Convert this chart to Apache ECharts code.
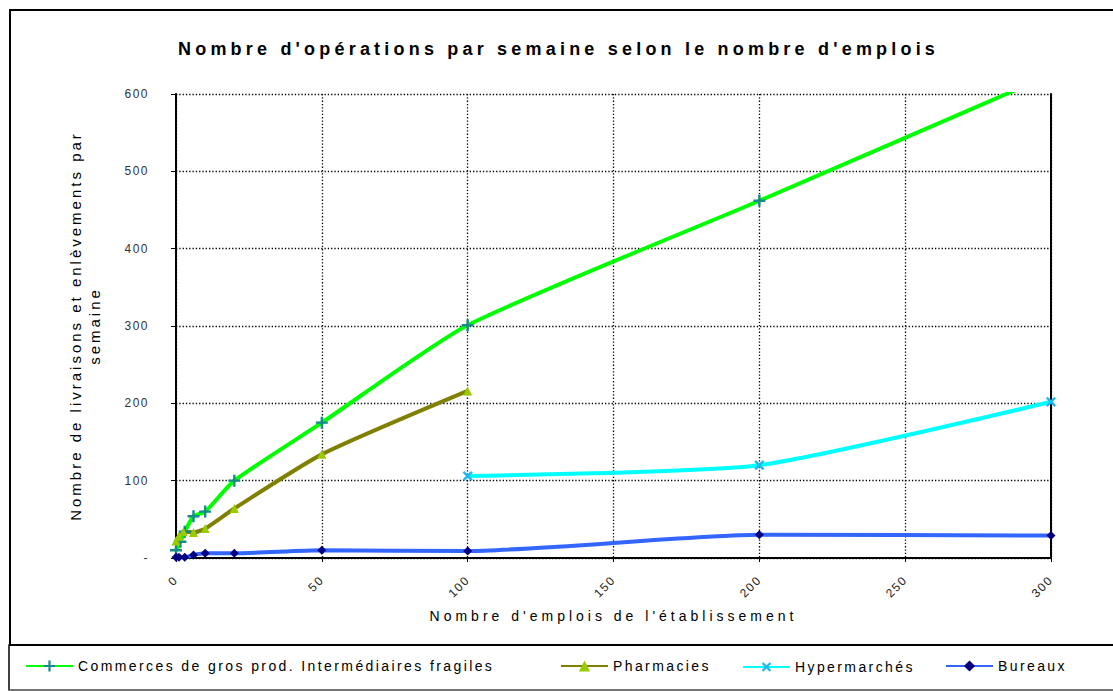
<!DOCTYPE html>
<html>
<head>
<meta charset="utf-8">
<script src="https://cdn.jsdelivr.net/npm/echarts@6/dist/echarts.min.js"></script>
<style>
  html, body { margin: 0; padding: 0; background: #fff; }
  #main { width: 1113px; height: 691px; }
  /* the source chart uses widely spaced letters, tagged per text by a dummy family name */
  #main text[style*="LsTitle"], #main text[font-family*="LsTitle"] { letter-spacing: 4.2px; }
  #main text[style*="LsXname"], #main text[font-family*="LsXname"] { letter-spacing: 4px; }
  #main text[style*="LsYname"], #main text[font-family*="LsYname"] { letter-spacing: 3px; }
  #main text[style*="LsLeg"], #main text[font-family*="LsLeg"] { letter-spacing: 2.4px; }
  #main text[style*="LsTick"], #main text[font-family*="LsTick"] { letter-spacing: 1.5px; }
</style>
</head>
<body>
<div id="main"></div>
<script>
var xTicks = [0, 50, 100, 150, 200, 250, 300];
var yTicks = [0, 100, 200, 300, 400, 500, 600];

var commName = 'Commerces de gros prod. Intermédiaires fragiles';
var commX = [0, 1.5, 3, 6, 10, 20, 50, 100, 200, 300];
var commY = [10, 21, 34, 54, 60, 100, 175, 301, 462, 625];

var pharmName = 'Pharmacies';
var pharmX = [0, 1, 2.5, 6, 10, 20, 50, 100];
var pharmY = [22, 28, 34, 33, 38, 64, 134, 216];

var hyperName = 'Hypermarchés';
var hyperX = [100, 200, 300];
var hyperY = [106, 120, 202];

var burName = 'Bureaux';
var burX = [0, 1, 3, 6, 10, 20, 50, 100, 200, 300];
var burY = [1, 1, 1, 4, 6, 6, 10, 9, 30, 29];

function font(tag) {
	return tag + ", 'Liberation Sans', Arial, sans-serif";
}

function pairs(xs, ys) {
	var out = [];
	for (var i = 0; i < xs.length; i++) {
		out.push([xs[i], ys[i]]);
	}
	return out;
}

var plusPath = 'path://M4,0H6V4H10V6H6V10H4V6H0V4H4Z';

function buildSerie(name, xs, ys, lineColor, symbol, symbolColor, size, rotate) {
	return {
		name: name,
		type: 'line',
		data: pairs(xs, ys),
		smooth: 0.2,
		clip: true,
		symbol: symbol,
		symbolSize: size,
		symbolRotate: rotate || 0,
		showAllSymbol: true,
		lineStyle: { color: lineColor, width: 4 },
		itemStyle: { color: symbolColor, borderWidth: 0 }
	};
}

function buildLegend(name, left) {
	return {
		data: [name],
		left: left,
		top: 659,
		padding: 0,
		itemWidth: 47,
		itemHeight: 14,
		textStyle: { fontFamily: font('LsLeg'), fontSize: 14, color: '#000' }
	};
}

var chart = echarts.init(document.getElementById('main'), null, { renderer: 'svg' });

var option = {
	animation: false,
	backgroundColor: '#fff',
	graphic: [
		{ type: 'rect', z: -10, shape: { x: 10, y: 10, width: 1120, height: 635 },
			style: { fill: 'none', stroke: '#000', lineWidth: 2 } },
		{ type: 'rect', z: -10, shape: { x: 9, y: 645, width: 1120, height: 45 },
			style: { fill: 'none', stroke: '#000', lineWidth: 1.5 } },
		{ type: 'line', z: -9, shape: { x1: 9, y1: 690, x2: 1113, y2: 690 },
			style: { stroke: '#aaa', lineWidth: 1 } },
		{ type: 'text', left: 178, top: 40, z: 10,
			style: { text: "Nombre d'opérations par semaine selon le nombre d'emplois",
				font: 'bold 18px ' + font('LsTitle'), fill: '#000' } }
	],
	legend: [
		buildLegend(commName, 25),
		buildLegend(pharmName, 560),
		buildLegend(hyperName, 742),
		buildLegend(burName, 945)
	],
	grid: { left: 176, right: 62, top: 94, bottom: 133, containLabel: false },
	xAxis: {
		type: 'value',
		min: xTicks[0],
		max: xTicks[xTicks.length - 1],
		interval: 50,
		name: "Nombre d'emplois de l'établissement",
		nameLocation: 'middle',
		nameGap: 51,
		nameTextStyle: { fontFamily: font('LsXname'), fontSize: 14, color: '#000' },
		axisLine: { show: true, lineStyle: { color: '#000', width: 2 } },
		axisTick: { show: true, length: 4, lineStyle: { color: '#000', width: 1 } },
		axisLabel: { rotate: 45, margin: 20, fontSize: 12, color: '#222', fontFamily: font('LsTick') },
		splitLine: { show: true, lineStyle: { color: '#000', width: 1.3, type: [1.3, 2] } }
	},
	yAxis: [{
		type: 'value',
		min: yTicks[0],
		max: yTicks[yTicks.length - 1],
		interval: 100,
		name: 'Nombre de livraisons et enlèvements par\nsemaine',
		nameLocation: 'middle',
		nameGap: 72,
		nameTextStyle: { fontFamily: font('LsYname'), fontSize: 15, color: '#000', lineHeight: 19 },
		axisLine: { show: true, lineStyle: { color: '#000', width: 2 } },
		axisTick: { show: true, length: 5, lineStyle: { color: '#000', width: 1 } },
		axisLabel: {
			margin: 27, fontSize: 12, color: '#333', fontFamily: font('LsTick'),
			formatter: function (v) { return v === 0 ? '-' : String(v); }
		},
		splitLine: { show: true, lineStyle: { color: '#000', width: 1.3, type: [1.3, 2] } }
	}, {
		type: 'value',
		position: 'right',
		min: yTicks[0],
		max: yTicks[yTicks.length - 1],
		interval: 100,
		axisLine: { show: true, lineStyle: { color: '#000', width: 2 } },
		axisTick: { show: false },
		axisLabel: { show: false },
		splitLine: { show: false }
	}],
	series: [
		buildSerie(commName, commX, commY, '#00ff00', plusPath, '#178a8a', 12, 0),
		buildSerie(pharmName, pharmX, pharmY, '#808000', 'triangle', '#99cc00', 9, 0),
		buildSerie(hyperName, hyperX, hyperY, '#00ffff', plusPath, '#20b8ee', 12, 45),
		buildSerie(burName, burX, burY, '#3366ff', 'diamond', '#000080', 9, 0)
	]
};

chart.setOption(option);
</script>
</body>
</html>
